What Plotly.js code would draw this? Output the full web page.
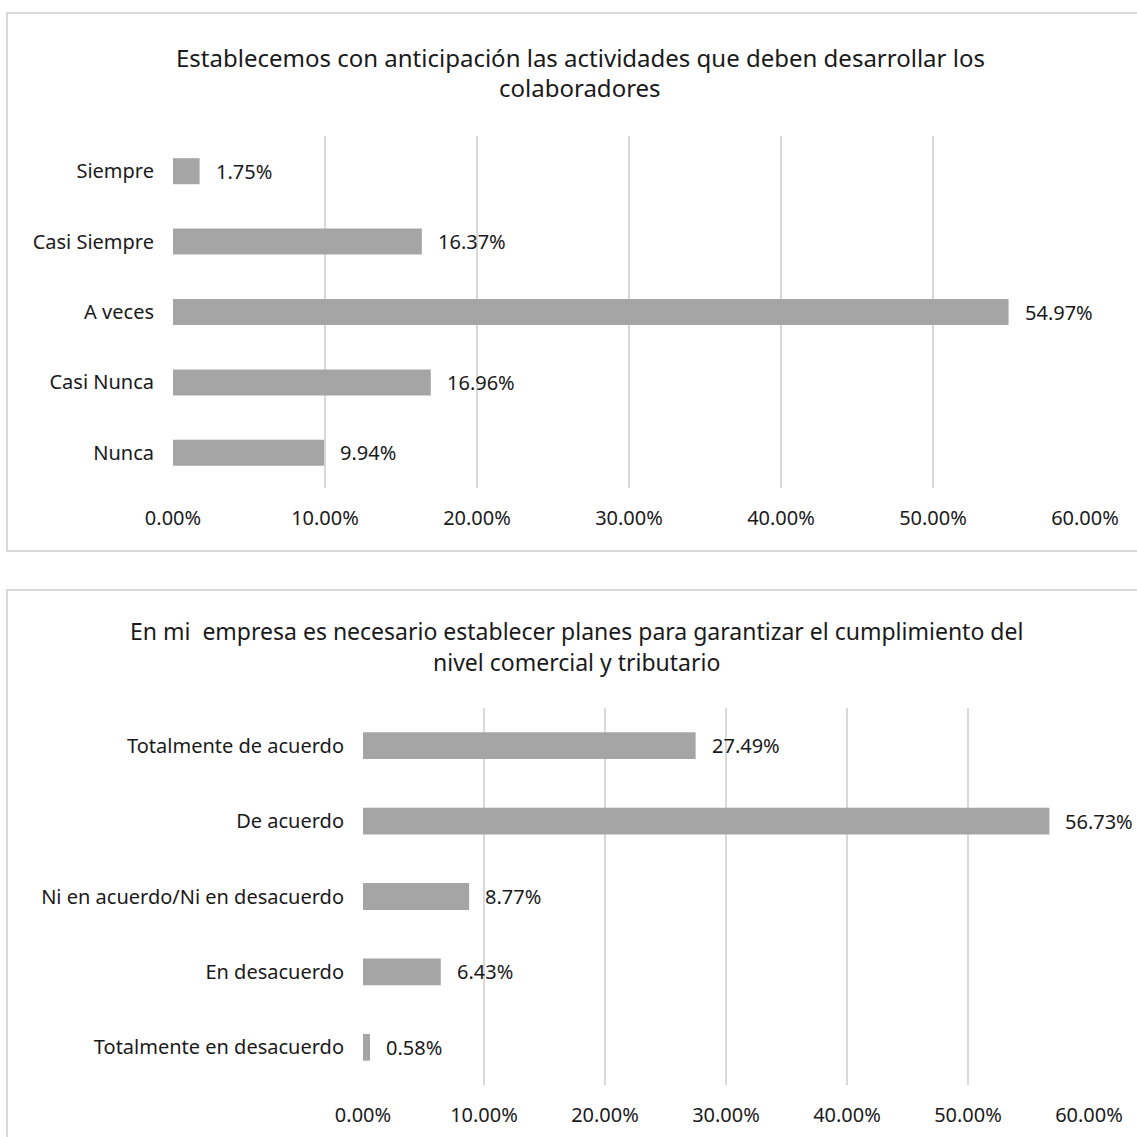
<!DOCTYPE html>
<html>
<head>
<meta charset="utf-8">
<script src="https://cdn.plot.ly/plotly-3.0.1.min.js"></script>
<style>html,body{margin:0;padding:0;background:#fff;}#chart{width:1137px;height:1137px;}</style>
</head>
<body>
<div id="chart"></div>
<script>
// ---- Data ----
const title1Lines = ["Establecemos con anticipación las actividades que deben desarrollar los", "colaboradores"];
const categories1 = ["Siempre", "Casi Siempre", "A veces", "Casi Nunca", "Nunca"];
const values1 = [0.0175, 0.1637, 0.5497, 0.1696, 0.0994];

const title2Lines = ["En mi\u00a0 empresa es necesario establecer planes para garantizar el cumplimiento del", "nivel comercial y tributario"];
const categories2 = ["Totalmente de acuerdo", "De acuerdo", "Ni en acuerdo/Ni en desacuerdo", "En desacuerdo", "Totalmente en desacuerdo"];
const values2 = [0.2749, 0.5673, 0.0877, 0.0643, 0.0058];

const xTickVals = [0, 0.1, 0.2, 0.3, 0.4, 0.5, 0.6];

// ---- Layout helpers ----
const W = 1137, H = 1137;
const px = x => x / W;
const py = y => 1 - y / H;
const FONT = "Noto Sans";
const TXT = "#1a1a1a";
const BAR = "#a5a5a5";
const GRID = "#d9d9d9";

const traces = [
  {type: "bar", orientation: "h", x: values1, y: categories1, xaxis: "x", yaxis: "y",
   marker: {color: BAR}, width: 0.37, hoverinfo: "skip"},
  {type: "bar", orientation: "h", x: values2, y: categories2, xaxis: "x2", yaxis: "y2",
   marker: {color: BAR}, width: 0.355, hoverinfo: "skip"}
];

function xAxis(domain, anchor) {
  return {domain: domain, anchor: anchor, range: [0, 0.6], tickvals: xTickVals, tickformat: ".2%",
    showgrid: true, gridcolor: GRID, gridwidth: 1.5, zeroline: false, showline: false, ticks: "",
    ticklabelstandoff: 16, tickfont: {family: FONT, size: 20, color: TXT}, fixedrange: true};
}
function yAxis(domain, anchor) {
  return {domain: domain, anchor: anchor, autorange: "reversed", type: "category",
    showgrid: false, zeroline: false, showline: false, ticks: "",
    ticklabelstandoff: 18, tickfont: {family: FONT, size: 20, color: TXT}, fixedrange: true};
}

const annotations = [];
function labels(cats, vals, xa, ya) {
  cats.forEach((c, i) => {
    annotations.push({x: vals[i], y: c, xref: xa, yref: ya, xanchor: "left", yanchor: "middle",
      xshift: 14, showarrow: false, text: (vals[i] * 100).toFixed(2) + "%",
      font: {family: FONT, size: 20, color: TXT}});
  });
}
labels(categories1, values1, "x", "y");
labels(categories2, values2, "x2", "y2");

function titleLines(lines, cx, ys, size) {
  lines.forEach((t, i) => {
    annotations.push({x: px(cx), y: py(ys[i]), xref: "paper", yref: "paper", xanchor: "center", yanchor: "middle",
      showarrow: false, text: t, font: {family: FONT, size: size, color: TXT}});
  });
}
titleLines(title1Lines, 580, [57, 88], 24);
titleLines(title2Lines, 576, [631, 662], 23);

const layout = {
  width: W, height: H, margin: {l: 0, r: 0, t: 0, b: 0},
  paper_bgcolor: "#ffffff", plot_bgcolor: "rgba(0,0,0,0)", showlegend: false,
  xaxis: xAxis([px(173), px(1085)], "y"),
  yaxis: yAxis([py(488), py(136)], "x"),
  xaxis2: xAxis([px(363), px(1089)], "y2"),
  yaxis2: yAxis([py(1085), py(708)], "x2"),
  annotations: annotations,
  shapes: [
    {type: "rect", xref: "paper", yref: "paper", x0: px(7), x1: px(1145), y0: py(551), y1: py(13),
     line: {color: GRID, width: 2}, fillcolor: "rgba(0,0,0,0)", layer: "below"},
    {type: "rect", xref: "paper", yref: "paper", x0: px(7), x1: px(1145), y0: py(1150), y1: py(590),
     line: {color: GRID, width: 2}, fillcolor: "rgba(0,0,0,0)", layer: "below"}
  ]
};

Plotly.newPlot("chart", traces, layout, {displayModeBar: false, staticPlot: true});
</script>
</body>
</html>
